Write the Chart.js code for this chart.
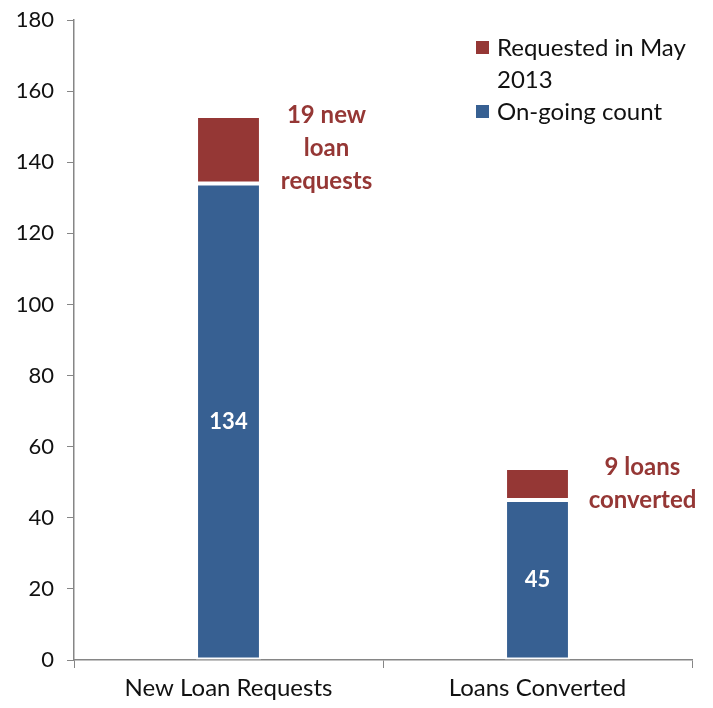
<!DOCTYPE html>
<html>
<head>
<meta charset="utf-8">
<script src="https://cdn.jsdelivr.net/npm/chart.js@4/dist/chart.umd.min.js"></script>
<style>
html,body{margin:0;padding:0;background:#fff;}
#wrap{position:relative;width:713px;height:708px;}
</style>
</head>
<body>
<div id="wrap"><canvas id="c" width="713" height="708"></canvas></div>
<script>
const categories = ["New Loan Requests", "Loans Converted"];
const ongoingCount = [134, 45];
const requestedMay = [19, 9];
const seriesNames = ["On-going count", "Requested in May 2013"];
const annotations = [["19 new", "loan", "requests"], ["9 loans", "converted"]];
const yTicks = [0, 20, 40, 60, 80, 100, 120, 140, 160, 180];

const BLUE = "#376092";
const RED = "#953735";
const FONT = "Lato, 'Open Sans', sans-serif";

const overlay = {
  id: "overlay",
  afterDatasetsDraw(chart) {
    const ctx = chart.ctx;
    const xs = chart.scales.x, ys = chart.scales.y;
    ctx.save();
    // data labels inside blue bars
    ctx.fillStyle = "#fff";
    ctx.font = "bold 22px " + FONT;
    ctx.textAlign = "center";
    ctx.textBaseline = "middle";
    ongoingCount.forEach((v, i) => {
      ctx.fillText(String(v), xs.getPixelForValue(i), ys.getPixelForValue(v / 2));
    });
    // annotations
    ctx.fillStyle = RED;
    ctx.font = "bold 24px " + FONT;
    const offs = [98, 105];
    annotations.forEach((lines, i) => {
      const top = ongoingCount[i] + requestedMay[i];
      const cx = xs.getPixelForValue(i) + offs[i];
      const y0 = ys.getPixelForValue(top) - 1;
      lines.forEach((t, k) => ctx.fillText(t, cx, y0 + k * 33));
    });
    // legend
    const lx = 476, ly = 48, lh = 32;
    ctx.font = "24px " + FONT;
    ctx.textAlign = "left";
    ctx.fillStyle = RED;
    ctx.fillRect(lx, ly - 7, 13, 13);
    ctx.fillStyle = BLUE;
    ctx.fillRect(lx, ly + 2 * lh - 7, 13, 13);
    ctx.fillStyle = "#111";
    ctx.fillText("Requested in May", lx + 21, ly);
    ctx.fillText("2013", lx + 21, ly + lh);
    ctx.fillText(seriesNames[0], lx + 21, ly + 2 * lh);
    ctx.restore();
  }
};

new Chart(document.getElementById("c"), {
  type: "bar",
  data: {
    labels: categories,
    datasets: [
      { label: seriesNames[0], data: ongoingCount, backgroundColor: BLUE, borderColor: "#fff", borderWidth: 2, borderSkipped: false },
      { label: seriesNames[1], data: requestedMay, backgroundColor: RED, borderColor: "#fff", borderWidth: 2, borderSkipped: false }
    ]
  },
  options: {
    responsive: false,
    animation: false,
    devicePixelRatio: 1,
    layout: { padding: { top: 20, right: 21, left: 0, bottom: 0 } },
    plugins: { legend: { display: false }, tooltip: { enabled: false } },
    datasets: { bar: { categoryPercentage: 1, barPercentage: 0.21 } },
    scales: {
      x: {
        stacked: true,
        grid: { display: true, drawOnChartArea: false, offset: true, tickLength: 8, color: "#868686" },
        border: { color: "#868686", width: 1.5 },
        ticks: { color: "#111", font: { family: FONT, size: 24 }, padding: 6 },
        afterFit(s) { s.height = 48; s.paddingLeft = 0; s.paddingRight = 0; }
      },
      y: {
        stacked: true,
        min: 0, max: 180,
        afterBuildTicks(s) { s.ticks = yTicks.map(v => ({ value: v })); },
        grid: { display: true, drawOnChartArea: false, tickLength: 7, color: "#868686" },
        border: { color: "#868686", width: 1.5 },
        ticks: { color: "#111", font: { family: FONT, size: 22 }, padding: 13 },
        afterFit(s) { s.width = 74; s.paddingTop = 0; s.paddingBottom = 0; }
      }
    }
  },
  plugins: [overlay]
});
</script>
</body>
</html>
